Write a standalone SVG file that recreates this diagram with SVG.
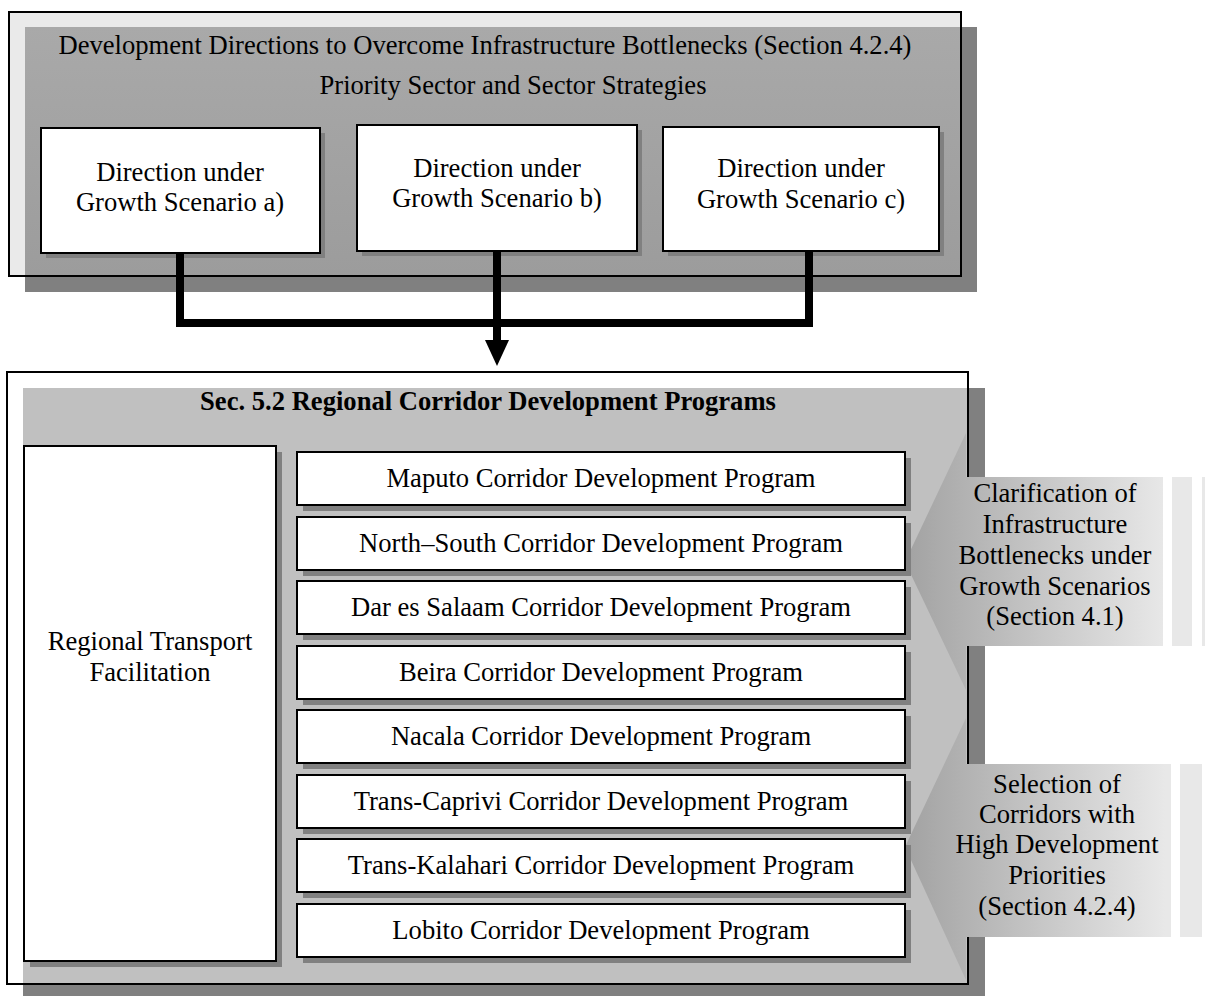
<svg xmlns="http://www.w3.org/2000/svg" width="1205" height="996" viewBox="0 0 1205 996">
<defs>
<linearGradient id="topfill" x1="0" y1="0" x2="0" y2="1">
<stop offset="0" stop-color="#a9a9a9"/>
<stop offset="1" stop-color="#9c9c9c"/>
</linearGradient>
<linearGradient id="callg" gradientUnits="userSpaceOnUse" x1="905" y1="0" x2="1165" y2="0">
<stop offset="0" stop-color="#a2a2a2"/>
<stop offset="1" stop-color="#e8e8e8"/>
</linearGradient>
</defs>
<style>
text{font-family:"Liberation Serif","Times New Roman",serif;font-size:26.6px;fill:#000;text-anchor:middle}
.bold{font-weight:bold}
.box{fill:#fff;stroke:#000;stroke-width:2}
.sh{fill:#808080}
.frame{fill:none;stroke:#000;stroke-width:2}
.strip{fill:#e8e8e8}
.conn{fill:none;stroke:#000;stroke-width:8;stroke-linejoin:miter}
</style>

<g id="top-container">
<rect x="25" y="27" width="952" height="265" class="sh"/>
<rect x="9" y="12" width="952" height="264" fill="#eaeaea"/>
<rect x="25" y="27" width="936" height="249" fill="url(#topfill)"/>
<rect x="9" y="12" width="952" height="264" class="frame"/>
<text x="485" y="54">Development Directions to Overcome Infrastructure Bottlenecks (Section 4.2.4)</text>
<text x="513" y="94">Priority Sector and Sector Strategies</text>
</g>

<g id="scenario-a">
<rect x="46" y="133" width="279" height="125" class="sh"/>
<rect x="41" y="128" width="279" height="125" class="box"/>
<text x="180" y="181">Direction under</text>
<text x="180" y="211">Growth Scenario a)</text>
</g>
<g id="scenario-b">
<rect x="362" y="130" width="280" height="126" class="sh"/>
<rect x="357" y="125" width="280" height="126" class="box"/>
<text x="497" y="177">Direction under</text>
<text x="497" y="207">Growth Scenario b)</text>
</g>
<g id="scenario-c">
<rect x="668" y="132" width="276" height="124" class="sh"/>
<rect x="663" y="127" width="276" height="124" class="box"/>
<text x="801" y="177">Direction under</text>
<text x="801" y="208">Growth Scenario c)</text>
</g>

<g id="connectors">
<path class="conn" d="M180,253 V323 H809 V251"/>
<path class="conn" d="M497,251 V342"/>
<polygon points="485,340 509,340 497,366" fill="#000"/>
</g>

<g id="bottom-container">
<rect x="23" y="388" width="962" height="612" class="sh"/>
<rect x="7" y="372" width="961" height="612" fill="#fff"/>
<rect x="23" y="388" width="945" height="596" fill="#c0c0c0"/>
<polygon points="905,562 966,433 966,690" fill="url(#callg)"/>
<polygon points="905,847 966,718 966,980" fill="url(#callg)"/>
<rect x="7" y="372" width="961" height="612" class="frame"/>
<text x="488" y="410" class="bold">Sec. 5.2 Regional Corridor Development Programs</text>
</g>

<g id="regional-transport">
<rect x="30" y="452" width="252" height="515" class="sh"/>
<rect x="24" y="446" width="252" height="515" class="box"/>
<text x="150" y="650">Regional Transport</text>
<text x="150" y="681">Facilitation</text>
</g>

<g id="maputo">
<rect x="303" y="458" width="608" height="53" class="sh"/>
<rect x="297" y="452" width="608" height="53" class="box"/>
<text x="601" y="487">Maputo Corridor Development Program</text>
</g>
<g id="north-south">
<rect x="303" y="523" width="608" height="53" class="sh"/>
<rect x="297" y="517" width="608" height="53" class="box"/>
<text x="601" y="552">North–South Corridor Development Program</text>
</g>
<g id="dar-es-salaam">
<rect x="303" y="587" width="608" height="53" class="sh"/>
<rect x="297" y="581" width="608" height="53" class="box"/>
<text x="601" y="616">Dar es Salaam Corridor Development Program</text>
</g>
<g id="beira">
<rect x="303" y="652" width="608" height="53" class="sh"/>
<rect x="297" y="646" width="608" height="53" class="box"/>
<text x="601" y="681">Beira Corridor Development Program</text>
</g>
<g id="nacala">
<rect x="303" y="716" width="608" height="53" class="sh"/>
<rect x="297" y="710" width="608" height="53" class="box"/>
<text x="601" y="745">Nacala Corridor Development Program</text>
</g>
<g id="trans-caprivi">
<rect x="303" y="781" width="608" height="53" class="sh"/>
<rect x="297" y="775" width="608" height="53" class="box"/>
<text x="601" y="810">Trans-Caprivi Corridor Development Program</text>
</g>
<g id="trans-kalahari">
<rect x="303" y="845" width="608" height="53" class="sh"/>
<rect x="297" y="839" width="608" height="53" class="box"/>
<text x="601" y="874">Trans-Kalahari Corridor Development Program</text>
</g>
<g id="lobito">
<rect x="303" y="910" width="608" height="53" class="sh"/>
<rect x="297" y="904" width="608" height="53" class="box"/>
<text x="601" y="939">Lobito Corridor Development Program</text>
</g>

<g id="clarification">
<rect x="966" y="477" width="197" height="169" fill="url(#callg)"/>
<rect x="1172" y="477" width="20" height="169" class="strip"/>
<rect x="1202" y="477" width="3" height="169" class="strip"/>
<text x="1055" y="502">Clarification of</text>
<text x="1055" y="533">Infrastructure</text>
<text x="1055" y="564">Bottlenecks under</text>
<text x="1055" y="595">Growth Scenarios</text>
<text x="1055" y="625">(Section 4.1)</text>
</g>

<g id="selection">
<rect x="966" y="764" width="205" height="173" fill="url(#callg)"/>
<rect x="1180" y="764" width="22" height="173" class="strip"/>
<text x="1057" y="793">Selection of</text>
<text x="1057" y="823">Corridors with</text>
<text x="1057" y="853">High Development</text>
<text x="1057" y="884">Priorities</text>
<text x="1057" y="915">(Section 4.2.4)</text>
</g>
</svg>
